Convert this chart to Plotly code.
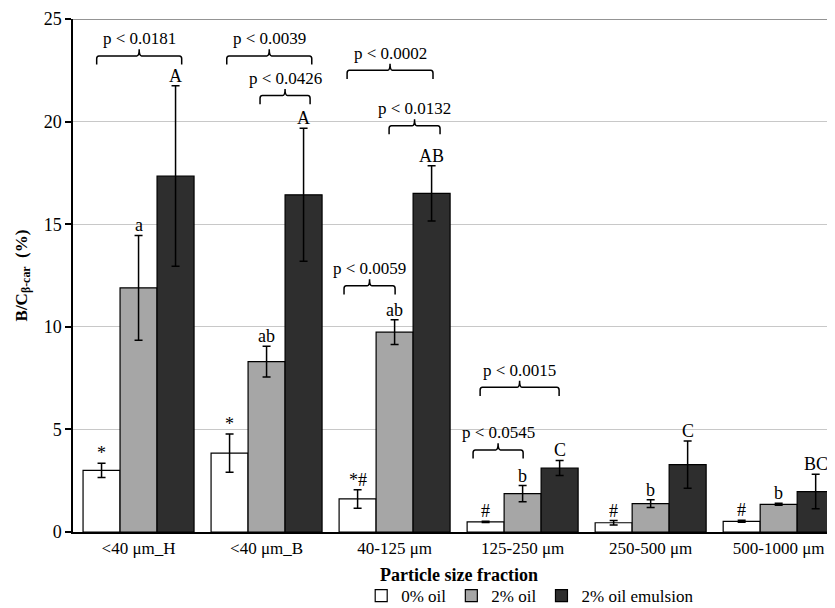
import plotly.graph_objects as go

categories = ["<40 μm_H", "<40 μm_B", "40-125 μm", "125-250 μm", "250-500 μm", "500-1000 μm"]
oil0 = [3.0, 3.84, 1.61, 0.49, 0.45, 0.52]
oil0_err = [0.35, 0.93, 0.45, 0.03, 0.11, 0.05]
oil2 = [11.9, 8.3, 9.74, 1.87, 1.38, 1.35]
oil2_err = [2.55, 0.75, 0.6, 0.39, 0.19, 0.05]
emul = [17.35, 16.43, 16.5, 3.12, 3.28, 1.97]
emul_err = [4.4, 3.24, 1.35, 0.37, 1.15, 0.84]

labels0 = ["*", "*", "*#", "#", "#", "#"]
labels2 = ["a", "ab", "ab", "b", "b", "b"]
labelsE = ["A", "A", "AB", "C", "C", "BC"]

# p-value brackets: (x start, x end, y level, text)
brackets = [
    (-0.327, 0.337, 23.2, "p < 0.0181"),
    (0.689, 1.353, 23.2, "p < 0.0039"),
    (0.949, 1.34, 21.27, "p < 0.0426"),
    (1.629, 2.30, 22.5, "p < 0.0002"),
    (1.957, 2.355, 19.8, "p < 0.0132"),
    (1.605, 2.004, 12.0, "p < 0.0059"),
    (2.668, 3.285, 7.05, "p < 0.0015"),
    (2.613, 3.004, 4.0, "p < 0.0545"),
]

FONT = "Liberation Serif"
xs = list(range(len(categories)))
series = [
    ("0% oil", oil0, oil0_err, "#ffffff", labels0),
    ("2% oil", oil2, oil2_err, "#a6a6a6", labels2),
    ("2% oil emulsion", emul, emul_err, "#2e2e2e", labelsE),
]
bw = 0.289
offsets = [-bw, 0, bw]

fig = go.Figure()
for (name, vals, errs, col, _), off in zip(series, offsets):
    fig.add_trace(go.Bar(
        x=xs, y=vals, name=name,
        marker=dict(color=col, line=dict(color="#000000", width=1.2)),
        error_y=dict(type="data", array=errs, visible=True, color="#000000",
                     thickness=1.5, width=4),
    ))

annotations = []
for (name, vals, errs, col, labs), off in zip(series, offsets):
    for i, (v, e, lab) in enumerate(zip(vals, errs, labs)):
        annotations.append(dict(
            x=i + off, y=v + e, text=lab, showarrow=False, yanchor="bottom",
            yshift=-2, font=dict(family=FONT, size=18, color="#000000")))

shapes = []
for x0, x1, y, txt in brackets:
    xm = (x0 + x1) / 2
    h, rx, ry, tick = 0.42, 0.018, 0.14, 0.32
    path = (f"M {x0},{y - h} L {x0},{y - ry} Q {x0},{y} {x0 + rx},{y} "
            f"L {xm - rx},{y} Q {xm},{y} {xm},{y + tick} Q {xm},{y} {xm + rx},{y} "
            f"L {x1 - rx},{y} Q {x1},{y} {x1},{y - ry} L {x1},{y - h}")
    shapes.append(dict(type="path", path=path, xref="x", yref="y",
                       line=dict(color="#000000", width=1.5)))
    annotations.append(dict(
        x=xm, y=y + tick, text=txt, showarrow=False, yanchor="bottom", yshift=-1,
        font=dict(family=FONT, size=17, color="#000000")))

# top frame line
shapes.append(dict(type="line", xref="paper", yref="y", x0=0, x1=1, y0=25, y1=25,
                   line=dict(color="#707070", width=1.5)))

annotations.append(dict(
    xref="paper", yref="paper", x=0.507, y=-0.084, yanchor="middle",
    text="<b>Particle size fraction</b>",
    showarrow=False, font=dict(family=FONT, size=18, color="#000000")))

# the page body has an 8px margin, so the figure is shifted by 8px
fig.update_layout(
    width=827, height=600,
    margin=dict(l=65, r=0, t=11, b=76, autoexpand=False),
    plot_bgcolor="#ffffff", paper_bgcolor="#ffffff",
    barmode="group", bargap=0.133, bargroupgap=0,
    font=dict(family=FONT, size=17, color="#000000"),
    showlegend=True,
    legend=dict(orientation="h", x=0.6, xanchor="center", y=-0.125, yanchor="middle",
                font=dict(family=FONT, size=17), itemwidth=30, traceorder="normal"),
    xaxis=dict(range=[-0.512, 5.44], tickmode="array", tickvals=xs, ticktext=categories,
               showline=True, linecolor="#000000", linewidth=1.5, ticks="",
               showgrid=False, zeroline=False, automargin=False,
               tickfont=dict(family=FONT, size=17)),
    yaxis=dict(range=[0, 25], dtick=5, showline=True, linecolor="#000000", linewidth=1.5,
               ticks="outside", ticklen=6, tickwidth=1.5, tickcolor="#000000",
               gridcolor="#c8c8c8", gridwidth=1, zeroline=False, automargin=False,
               title=dict(text="<b>B/C<sub>β-car</sub>  (%)</b>", standoff=12,
                          font=dict(family=FONT, size=17)),
               tickfont=dict(family=FONT, size=18)),
    shapes=shapes, annotations=annotations,
)

fig.write_html("out.html", config={"displayModeBar": False})
